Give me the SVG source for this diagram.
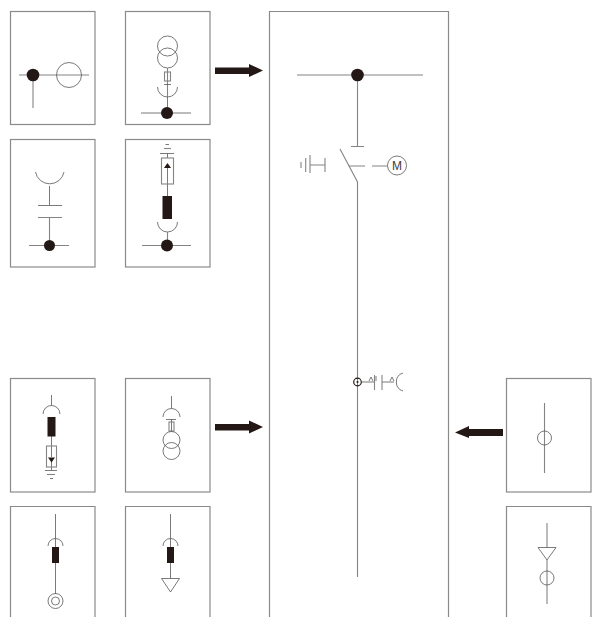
<svg xmlns="http://www.w3.org/2000/svg" width="604" height="617" viewBox="0 0 604 617">
<defs>
<style>
.p{fill:#fff;stroke:#8c8989;stroke-width:1.2}
.l{fill:none;stroke:#868383;stroke-width:1.1}
.d{fill:none;stroke:#595757;stroke-width:.8}
.k{fill:#231815;stroke:none}
.a{fill:#231815;stroke:none}
</style>
</defs>
<rect width="604" height="617" fill="#fff"/>
<g id="panel-1">
<rect class="p" x="10.5" y="11.5" width="84.5" height="113"/>
<path class="l" d="M19 75H89M33 75V108"/>
<circle class="d" cx="69" cy="75" r="12.5"/>
<circle class="k" cx="33" cy="75" r="6.300"/>
</g>
<g id="panel-2">
<rect class="p" x="125.5" y="11.5" width="84.5" height="113"/>
<circle class="d" cx="167.5" cy="46" r="10"/>
<circle class="d" cx="167.5" cy="58" r="10"/>
<path class="l" d="M167.5 68V97"/>
<rect class="l" x="164.5" y="72" width="6" height="9"/>
<path class="d" d="M164 84.5H171M157.5 87A10 10 0 0 0 177.5 87M167.5 97V113M141 113H191"/>
<circle class="k" cx="167" cy="113" r="6"/>
</g>
<g id="panel-3">
<rect class="p" x="10.5" y="139.5" width="84.5" height="127.500"/>
<path class="d" d="M35.5 172A14.5 14.5 0 0 0 64 172"/>
<path class="d" d="M49.5 186V205M38 205.500H62"/>
<path class="l" d="M38 217.500H62M49.500 217.500V245.500M29 245.500H69"/>
<circle class="k" cx="49.500" cy="245.500" r="5.500"/>
</g>
<g id="panel-4">
<rect class="p" x="125.500" y="139.500" width="84.500" height="127.500"/>
<path class="d" d="M165.500 144.500H169M160 153.500H174M167.500 153.500V158M167.500 168V197"/>
<path class="l" d="M164 148.500H171"/>
<rect class="l" x="161.500" y="158" width="12" height="26"/>
<path class="k" d="M167.500 163L164 168H171Z"/>
<rect class="k" x="162.500" y="196" width="9.500" height="23"/>
<path class="d" d="M157.500 222A10 10 0 0 0 177.500 222"/>
<path class="l" d="M167.500 232V245.500M142 245.500H191"/>
<circle class="k" cx="167" cy="245.500" r="6"/>
</g>
<g id="panel-5">
<rect class="p" x="10.500" y="378.500" width="84.500" height="113.500"/>
<path class="d" d="M51.500 395V405.500M43 414A8.500 8.500 0 0 1 60 414M51.500 436V457M51.500 462V470M45 470.500H57M50 478.500H53"/>
<path class="l" d="M47 474.500H55"/>
<rect class="k" x="47.500" y="417" width="8" height="19.500"/>
<rect class="l" x="46.500" y="446" width="10" height="21"/>
<path class="k" d="M48 457.500H55L51.500 462.500Z"/>
</g>
<g id="panel-6">
<rect class="p" x="125.500" y="378.500" width="84.500" height="113.500"/>
<path class="d" d="M171.500 396V408.500M163 417A8.500 8.500 0 0 1 180 417M166 419.500H176M171.500 419.500V432"/>
<rect class="l" x="169" y="422" width="5" height="9" fill="#bbb"/>
<circle class="d" cx="171.500" cy="440" r="8.500"/>
<circle class="d" cx="171.500" cy="451" r="8.500"/>
</g>
<g id="panel-7">
<path class="p" d="M10.500 625V506.500H95V625"/>
<path class="d" d="M55.500 514V594M48 546A7.500 7.500 0 0 1 63 546"/>
<rect class="k" x="52" y="547" width="7" height="16"/>
<circle class="d" cx="55.500" cy="601" r="7.500"/>
<circle class="d" cx="55.500" cy="601" r="4"/>
</g>
<g id="panel-8">
<path class="p" d="M125.500 625V506.500H210V625"/>
<path class="d" d="M170.500 514V578M163 546A7.500 7.500 0 0 1 178 546"/>
<rect class="k" x="167" y="547" width="7" height="16"/>
<path class="d" d="M161.500 578.500H179.500L170.500 592Z"/>
</g>
<g id="main-panel">
<path class="p" d="M269.500 625V11.500H448.500V625"/>
<path class="l" d="M297 75H423M357.500 75V146M351 146.500H364M340 149L357.500 182V577"/>
<circle class="k" cx="357.500" cy="75" r="6.300"/>
<path class="l" d="M349 166H365M372 166H387.500M301 162V168M305.700 158V172M310 155V173M310 165H325M325 158V172"/>
<circle class="d" cx="397" cy="165.500" r="9.500"/>
<text x="397" y="170" font-family="Liberation Sans, Arial, sans-serif" font-size="12" text-anchor="middle" fill="#3e3a39">M</text>
<circle cx="357.500" cy="382" r="3.800" fill="none" stroke="#231815" stroke-width="1.200"/>
<circle class="k" cx="357.500" cy="382" r="1"/>
<path class="d" d="M361 382H374M369 381L371 377L373 381M376 376V381M382 382H394M390 381L392 377L394 381M403 373A9.400 9.400 0 0 0 403 391"/>
<path class="l" d="M374.500 375V390M382 375V390"/>
</g>
<g id="panel-9">
<rect class="p" x="506.500" y="378.500" width="84.500" height="113.500"/>
<path class="l" d="M544.500 403V473"/>
<circle class="d" cx="544.500" cy="438" r="7"/>
</g>
<g id="panel-10">
<path class="p" d="M506.500 625V506.500H591V625"/>
<path class="l" d="M547 523V547M547 560V604"/>
<path class="d" d="M538 547.500H556L547 560Z"/>
<circle class="d" cx="547" cy="578" r="7"/>
</g>
<g id="connectors">
<path class="a" d="M215 67.500H249V64L263 70.500L249 77V74H215Z"/>
<path class="a" d="M215 424H249V420.500L263 427L249 433.500V430.500H215Z"/>
<path class="a" d="M503 429V436H469V438L455 432.500L469 426V429Z"/>
</g>
</svg>
